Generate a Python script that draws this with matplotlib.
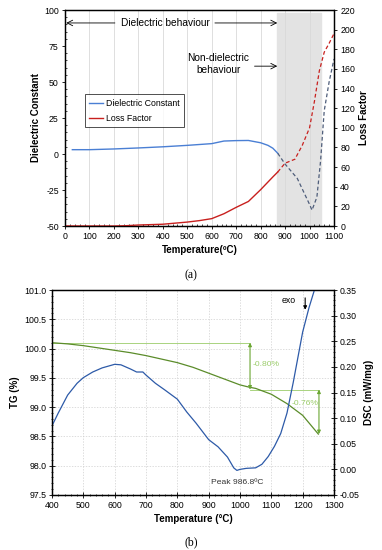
import matplotlib.pyplot as plt
from matplotlib.ticker import MultipleLocator, FormatStrFormatter

plt.rcParams['font.family'] = ['Liberation Sans', 'DejaVu Sans']
plt.rcParams['axes.unicode_minus'] = False

# (a) dielectric data
tempDC = [30, 100, 200, 300, 400, 500, 600, 650, 700, 750, 800, 830, 850, 870]
dielConst = [3.0, 3.0, 3.5, 4.2, 5.0, 6.0, 7.2, 9.0, 9.3, 9.4, 7.8, 6.0, 4.0, 0.5]
tempDCnd = [870, 900, 950, 1000, 1010, 1030, 1045, 1060, 1080, 1100]
dielConstNd = [0.5, -7, -17, -35, -39, -30, -5, 30, 50, 66]

tempLF = [0, 100, 200, 250, 300, 400, 500, 550, 600, 650, 700, 750, 800, 850, 870]
lossFactor = [0, 0, 0, 0.3, 1.0, 1.8, 4.0, 5.5, 7.5, 12.5, 19, 25, 37, 50, 55]
tempLFnd = [870, 900, 940, 970, 1000, 1020, 1040, 1060, 1080, 1100]
lossFactorNd = [55, 64, 68, 82, 100, 127, 158, 177, 186, 196]

# (b) TG / DSC data
tempTG = [400, 450, 500, 550, 600, 650, 700, 750, 800, 850, 900, 950, 1000, 1030, 1050, 1100, 1150, 1200, 1250]
tg = [100.10, 100.08, 100.05, 100.01, 99.97, 99.93, 99.88, 99.82, 99.76, 99.68, 99.58, 99.48, 99.38, 99.34,
      99.32, 99.22, 99.06, 98.86, 98.54]

tempDSC = [400, 420, 450, 480, 500, 530, 560, 600, 620, 650, 670, 690, 700, 730, 760, 800, 830, 860, 900,
           930, 960, 980, 990, 1000, 1020, 1050, 1070, 1090, 1110, 1130, 1150, 1170, 1200, 1220, 1240]
dsc = [0.085, 0.11, 0.145, 0.168, 0.179, 0.190, 0.198, 0.205, 0.204, 0.196, 0.190, 0.190, 0.184, 0.168,
       0.155, 0.137, 0.112, 0.090, 0.058, 0.044, 0.024, 0.003, -0.002, 0.000, 0.002, 0.003, 0.010, 0.025,
       0.045, 0.070, 0.110, 0.170, 0.268, 0.315, 0.355]

TICK = 6.3
LAB = 7

fig = plt.figure(figsize=(3.82, 5.5), dpi=100)

# ---------- (a) ----------
ax1 = fig.add_axes([65 / 382, 1 - 226 / 550, 269 / 382, 216 / 550])
ax1b = ax1.twinx()

ax1.axvspan(868, 1048, ymax=0.985, color='#e3e3e3', zorder=0)
for xv in range(100, 1100, 100):
    ax1.axvline(xv, color='#d9d9d9', lw=0.6, zorder=0.5)

ax1.plot(tempDC, dielConst, color='#4a7fd4', lw=1.0, label='Dielectric Constant')
ax1.plot(tempDCnd, dielConstNd, color='#4e5d7a', lw=0.9, ls=(0, (3, 2)))
ax1b.plot(tempLF, lossFactor, color='#c8201e', lw=1.0)
ax1b.plot(tempLFnd, lossFactorNd, color='#c8201e', lw=0.9, ls=(0, (3, 2)))
ax1.plot([], [], color='#c8201e', lw=1.0, label='Loss Factor')

ax1.set_xlim(0, 1100)
ax1.set_ylim(-50, 100)
ax1b.set_ylim(0, 220)
ax1.xaxis.set_major_locator(MultipleLocator(100))
ax1.xaxis.set_minor_locator(MultipleLocator(20))
ax1.yaxis.set_major_locator(MultipleLocator(25))
ax1.yaxis.set_minor_locator(MultipleLocator(5))
ax1b.yaxis.set_major_locator(MultipleLocator(20))
ax1.tick_params(labelsize=TICK, length=2.5, width=0.6, direction='out', pad=2)
ax1.tick_params(which='minor', length=1.5, width=0.5, direction='in')
ax1b.tick_params(labelsize=TICK, length=2.5, width=0.6, direction='out', pad=2)
for ax in (ax1, ax1b):
    for s in ax.spines.values():
        s.set_linewidth(0.9)
ax1.set_xlabel('Temperature(ºC)', fontsize=LAB, fontweight='bold', labelpad=3)
ax1.set_ylabel('Dielectric Constant', fontsize=LAB, fontweight='bold', labelpad=2)
ax1b.set_ylabel('Loss Factor', fontsize=LAB, fontweight='bold', labelpad=3)

ax1.annotate('', xy=(5, 91), xytext=(204, 91),
             arrowprops=dict(arrowstyle='->', color='black', lw=0.6, shrinkA=0, shrinkB=0))
ax1.annotate('', xy=(868, 91), xytext=(613, 91),
             arrowprops=dict(arrowstyle='->', color='black', lw=0.6, shrinkA=0, shrinkB=0))
ax1.text(409, 91, 'Dielectric behaviour', fontsize=7.3, ha='center', va='center')
ax1.text(627, 62.5, 'Non-dielectric\nbehaviour', fontsize=7.3, ha='center', va='center', linespacing=1.15)
ax1.annotate('', xy=(868, 61), xytext=(775, 61),
             arrowprops=dict(arrowstyle='->', color='black', lw=0.6, shrinkA=0, shrinkB=0))

leg = ax1.legend(loc='upper left', bbox_to_anchor=(0.074, 0.61), fontsize=6.3, frameon=True,
                 fancybox=False, edgecolor='black', handlelength=1.6, handletextpad=0.3,
                 borderpad=0.5, labelspacing=0.7, borderaxespad=0)
leg.get_frame().set_linewidth(0.6)

fig.text(0.5, 1 - 275 / 550, '(a)', fontsize=8.5, ha='center', va='center', family='Liberation Serif')

# ---------- (b) ----------
ax2 = fig.add_axes([52 / 382, 1 - 495 / 550, 282 / 382, 205 / 550])
ax2b = ax2.twinx()

ax2.set_xlim(400, 1300)
ax2.set_ylim(97.5, 101.0)
ax2b.set_ylim(-0.05, 0.35)
ax2.xaxis.set_major_locator(MultipleLocator(100))
ax2.xaxis.set_minor_locator(MultipleLocator(20))
ax2.yaxis.set_major_locator(MultipleLocator(0.5))
ax2.yaxis.set_minor_locator(MultipleLocator(0.1))
ax2.yaxis.set_major_formatter(FormatStrFormatter('%.1f'))
ax2b.yaxis.set_major_locator(MultipleLocator(0.05))
ax2b.yaxis.set_minor_locator(MultipleLocator(0.01))
ax2b.yaxis.set_major_formatter(FormatStrFormatter('%.2f'))
ax2.grid(True, which='major', color='#cfcfcf', lw=0.5, ls=(0, (2, 2)))
ax2.tick_params(labelsize=TICK, length=4, width=0.6, direction='inout', pad=2)
ax2.tick_params(which='minor', length=2, width=0.5, direction='inout')
ax2b.tick_params(labelsize=TICK, length=4, width=0.6, direction='inout', pad=2)
ax2b.tick_params(which='minor', length=2, width=0.5, direction='inout')
for ax in (ax2, ax2b):
    for s in ax.spines.values():
        s.set_linewidth(0.9)

ax2.plot(tempTG, tg, color='#5b8c2a', lw=0.9, zorder=3)
ax2b.plot(tempDSC, dsc, color='#2d5aa8', lw=0.9)

light = '#9bcc6a'
arrowc = '#6aa632'
ax2.plot([400, 1032], [100.1, 100.1], color=light, lw=0.6)
ax2.plot([1032, 1252], [99.3, 99.3], color=light, lw=0.6)
ax2.annotate('', xy=(1032, 100.1), xytext=(1032, 99.3),
             arrowprops=dict(arrowstyle='<|-|>', color=arrowc, lw=0.8, mutation_scale=5, shrinkA=0, shrinkB=0))
ax2.annotate('', xy=(1252, 99.3), xytext=(1252, 98.54),
             arrowprops=dict(arrowstyle='<|-|>', color=arrowc, lw=0.8, mutation_scale=5, shrinkA=0, shrinkB=0))
ax2.text(1040, 99.72, '-0.80%', color=light, fontsize=6.1, ha='left', va='center')
ax2.text(1164, 99.06, '-0.76%', color=light, fontsize=6.1, ha='left', va='center')

ax2b.text(990, -0.025, 'Peak 986.8ºC', fontsize=6.1, ha='center', va='center', color='#333333')
ax2b.text(1155, 0.33, 'exo', fontsize=6.3, ha='center', va='center')
ax2b.annotate('', xy=(1208, 0.306), xytext=(1208, 0.34),
              arrowprops=dict(arrowstyle='-|>', color='black', lw=0.8, mutation_scale=5))

ax2.set_xlabel('Temperature (°C)', fontsize=LAB, fontweight='bold', labelpad=3)
ax2.set_ylabel('TG (%)', fontsize=LAB, fontweight='bold', labelpad=3)
ax2b.set_ylabel('DSC (mW/mg)', fontsize=LAB, fontweight='bold', labelpad=3)

fig.text(0.5, 1 - 542 / 550, '(b)', fontsize=8.5, ha='center', va='center', family='Liberation Serif')

fig.savefig('out.png', dpi=100)
